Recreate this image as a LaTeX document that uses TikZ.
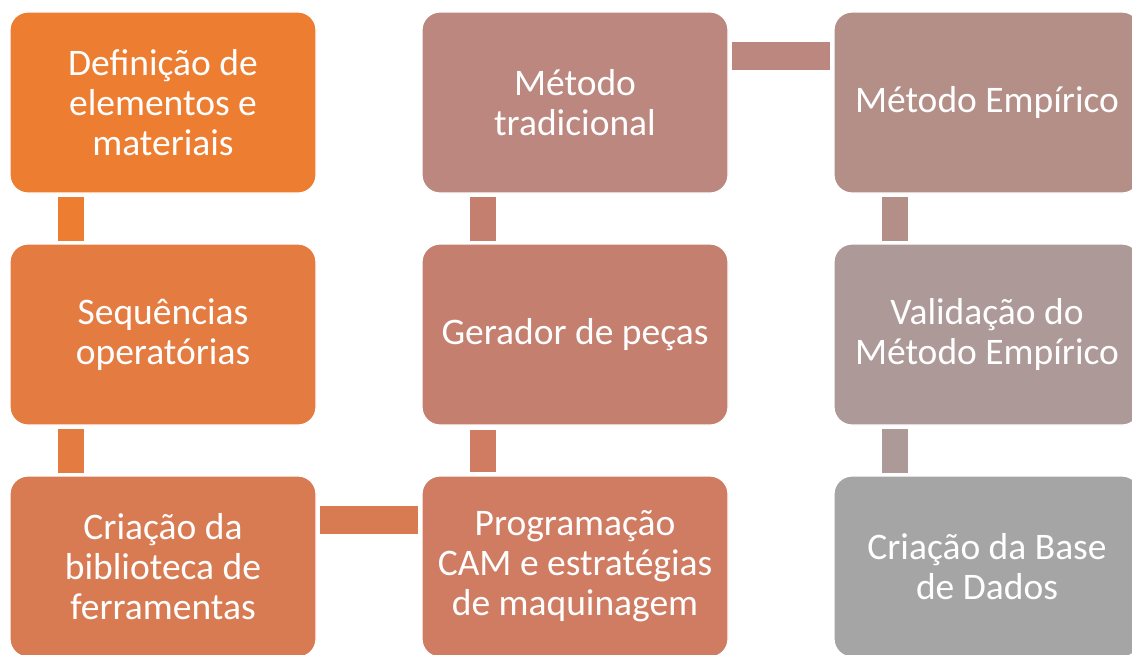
\documentclass[tikz,border=0pt]{standalone}
\usepackage{fontspec}
\setmainfont{Carlito}
\usetikzlibrary{calc}
\definecolor{c1}{HTML}{ED7D31}
\definecolor{c2}{HTML}{E47B41}
\definecolor{c3}{HTML}{D87B53}
\definecolor{c4}{HTML}{CF7C63}
\definecolor{c5}{HTML}{C57F6F}
\definecolor{c6}{HTML}{BC877E}
\definecolor{c7}{HTML}{B48F88}
\definecolor{c8}{HTML}{AD9998}
\definecolor{c9}{HTML}{A5A5A5}
\begin{document}
\begin{tikzpicture}[x=1pt,y=-1pt,
  box/.style={draw=white, line width=1.2pt, rounded corners=18pt, minimum width=306pt,
    minimum height=181pt, outer sep=0pt, inner sep=0pt, text=white, align=center,
    font=\fontsize{37.5}{40}\selectfont}]
\useasboundingbox (0,0) rectangle (1132,654);
\node[box, fill=c1] (b1) at (163,102.5) {Definição de\\elementos e\\materiais};
\node[box, fill=c2] (b2) at (163,334.5) {Sequências\\operatórias};
\node[box, fill=c3] (b3) at (163,566.5) {Criação da\\biblioteca de\\ferramentas};
\node[box, fill=c4] (b4) at (575,566.5) {Programação\\CAM e estratégias\\de maquinagem};
\node[box, fill=c5] (b5) at (575,334.5) {Gerador de peças};
\node[box, fill=c6] (b6) at (575,102.5) {Método\\tradicional};
\node[box, fill=c7] (b7) at (987,102.5) {Método Empírico};
\node[box, fill=c8] (b8) at (987,334.5) {Validação do\\Método Empírico};
\node[box, fill=c9] (b9) at (987,566.5) {Criação da Base\\de Dados};
% connectors
\fill[c1] ($(b1.south west)+(48,4)$) rectangle ($(b2.north west)+(74,-3)$);
\fill[c2] ($(b2.south west)+(48,4)$) rectangle ($(b3.north west)+(74,-3)$);
\fill[c3] ($(b3.north east)+(4,30)$) rectangle ($(b4.north west)+(-4,58)$);
\fill[c4] ($(b4.north west)+(48,-4)$) rectangle ($(b5.south west)+(74,5)$);
\fill[c5] ($(b5.north west)+(48,-3)$) rectangle ($(b6.south west)+(74,4)$);
\fill[c6] ($(b6.north east)+(4,30)$) rectangle ($(b7.north west)+(-4,58)$);
\fill[c7] ($(b7.south west)+(48,4)$) rectangle ($(b8.north west)+(74,-3)$);
\fill[c8] ($(b8.south west)+(48,4)$) rectangle ($(b9.north west)+(74,-3)$);
\end{tikzpicture}
\end{document}
